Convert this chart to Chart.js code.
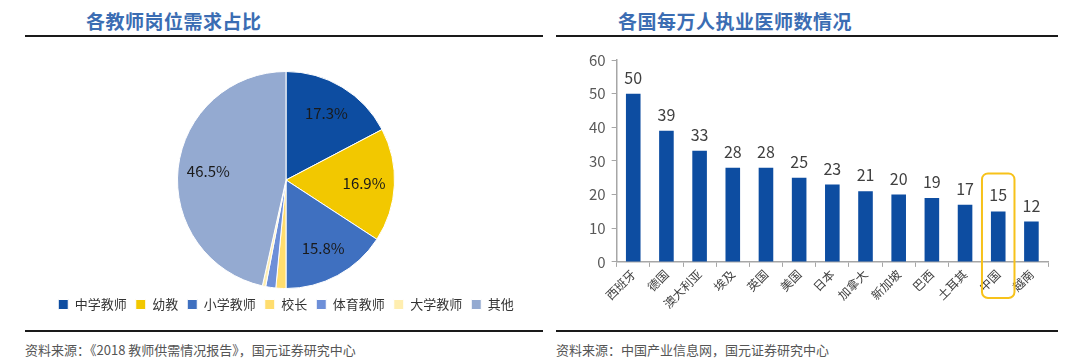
<!DOCTYPE html>
<html>
<head>
<meta charset="utf-8">
<script src="https://cdn.jsdelivr.net/npm/chart.js@4/dist/chart.umd.min.js"></script>
<style>
  body { margin: 0; background: #fff; width: 1080px; height: 364px; position: relative; overflow: hidden;
         font-family: "Noto Sans CJK SC", "Noto Sans", sans-serif; }
  .title { position: absolute; top: 7px; font-size: 19px; font-weight: bold; color: #3B6DB3; letter-spacing: 0.5px; }
  .rule { position: absolute; height: 2px; background: #1a1a1a; }
  .src { position: absolute; top: 340px; font-size: 13px; color: #555; }
  .box { position: absolute; }
</style>
</head>
<body>
<div class="title" style="left:86px">各教师岗位需求占比</div>
<div class="title" style="left:618px">各国每万人执业医师数情况</div>
<div class="rule" style="left:25px; width:518px; top:35px"></div>
<div class="rule" style="left:556px; width:502px; top:35px"></div>
<div class="rule" style="left:25px; width:518px; top:330px"></div>
<div class="rule" style="left:556px; width:502px; top:330px"></div>
<div class="src" style="left:25px">资料来源：《2018 教师供需情况报告》，国元证券研究中心</div>
<div class="src" style="left:556px">资料来源：中国产业信息网，国元证券研究中心</div>

<div class="box" style="left:25px; top:40px; width:515px; height:284px"><canvas id="pieChart"></canvas></div>
<div class="box" style="left:555px; top:40px; width:510px; height:285px"><canvas id="barChart"></canvas></div>

<script>
// 教师岗位需求占比 (%)
const roles = ['中学教师', '幼教', '小学教师', '校长', '体育教师', '大学教师', '其他'];
const roleShare = [17.3, 16.9, 15.8, 1.5, 1.5, 0.5, 46.5];
const roleColors = ['#0D4DA1', '#F2C800', '#3F70C0', '#FFDD6E', '#6D8FD8', '#FFEEB0', '#94AAD1'];

// 每万人执业医师数
const countries = ['西班牙', '德国', '澳大利亚', '埃及', '英国', '美国', '日本', '加拿大', '新加坡', '巴西', '土耳其', '中国', '越南'];
const doctors = [50, 39, 33, 28, 28, 25, 23, 21, 20, 19, 17, 15, 12];
const highlight = '中国';

const cjk = '"Noto Sans CJK SC", "Noto Sans", sans-serif';

const pieLabels = {
  id: 'pieLabels',
  afterDatasetsDraw(chart) {
    const ctx = chart.ctx;
    const meta = chart.getDatasetMeta(0);
    ctx.save();
    ctx.font = '15px ' + cjk;
    ctx.fillStyle = '#1a1a1a';
    ctx.textAlign = 'center';
    ctx.textBaseline = 'middle';
    meta.data.forEach((arc, i) => {
      const v = roleShare[i];
      if (v < 5) return;
      const p = arc.getProps(['x', 'y', 'startAngle', 'endAngle', 'outerRadius']);
      const mid = (p.startAngle + p.endAngle) / 2;
      const r = p.outerRadius * 0.72;
      ctx.fillText(v.toFixed(1) + '%', p.x + Math.cos(mid) * r, p.y + Math.sin(mid) * r);
    });
    ctx.restore();
  }
};

new Chart(document.getElementById('pieChart'), {
  type: 'pie',
  data: {
    labels: roles,
    datasets: [{
      data: roleShare,
      backgroundColor: roleColors,
      borderColor: '#fff',
      borderWidth: 1
    }]
  },
  options: {
    responsive: true,
    maintainAspectRatio: false,
    animation: false,
    layout: { padding: { top: 31, left: 7, bottom: 3 } },
    plugins: {
      legend: {
        position: 'bottom',
        labels: {
          boxWidth: 10, boxHeight: 10, padding: 9,
          font: { size: 13, family: cjk },
          color: '#333'
        }
      },
      tooltip: { enabled: false }
    }
  },
  plugins: [pieLabels]
});

const barLabels = {
  id: 'barLabels',
  afterDatasetsDraw(chart) {
    const ctx = chart.ctx;
    const meta = chart.getDatasetMeta(0);
    const x = chart.scales.x, y = chart.scales.y;
    ctx.save();
    ctx.font = '16px ' + cjk;
    ctx.fillStyle = '#404040';
    ctx.textAlign = 'center';
    ctx.textBaseline = 'bottom';
    meta.data.forEach((bar, i) => {
      ctx.fillText(String(doctors[i]), bar.x, bar.y - 8);
    });
    // 中国 高亮框
    const idx = countries.indexOf(highlight);
    const cx = x.getPixelForValue(idx);
    const half = (x.getPixelForValue(1) - x.getPixelForValue(0)) * 0.49;
    const top = y.getPixelForValue(doctors[idx]) - 38;
    const bottom = chart.height - 27;
    ctx.strokeStyle = '#F7C21A';
    ctx.lineWidth = 2;
    ctx.beginPath();
    ctx.roundRect(cx - half, top, half * 2, bottom - top, 6);
    ctx.stroke();
    ctx.restore();
  }
};

new Chart(document.getElementById('barChart'), {
  type: 'bar',
  data: {
    labels: countries,
    datasets: [{
      data: doctors,
      backgroundColor: '#0D4DA1',
      categoryPercentage: 1,
      barPercentage: 0.44
    }]
  },
  options: {
    responsive: true,
    maintainAspectRatio: false,
    animation: false,
    layout: { padding: { top: 20, right: 17, left: 28, bottom: 14 } },
    plugins: { legend: { display: false }, tooltip: { enabled: false } },
    scales: {
      x: {
        grid: { offset: true, drawOnChartArea: false, drawTicks: true, tickLength: 5, color: '#A6A6A6' },
        border: { color: '#A6A6A6', width: 1.5 },
        ticks: { minRotation: 45, maxRotation: 45, font: { size: 12, family: cjk }, color: '#404040', padding: 0 }
      },
      y: {
        min: 0, max: 60,
        grid: { drawOnChartArea: false, tickLength: 5, color: '#A6A6A6' },
        border: { color: '#A6A6A6', width: 1.5 },
        ticks: { stepSize: 10, font: { size: 15, family: cjk }, color: '#595959', padding: 6 }
      }
    }
  },
  plugins: [barLabels]
});
</script>
</body>
</html>
